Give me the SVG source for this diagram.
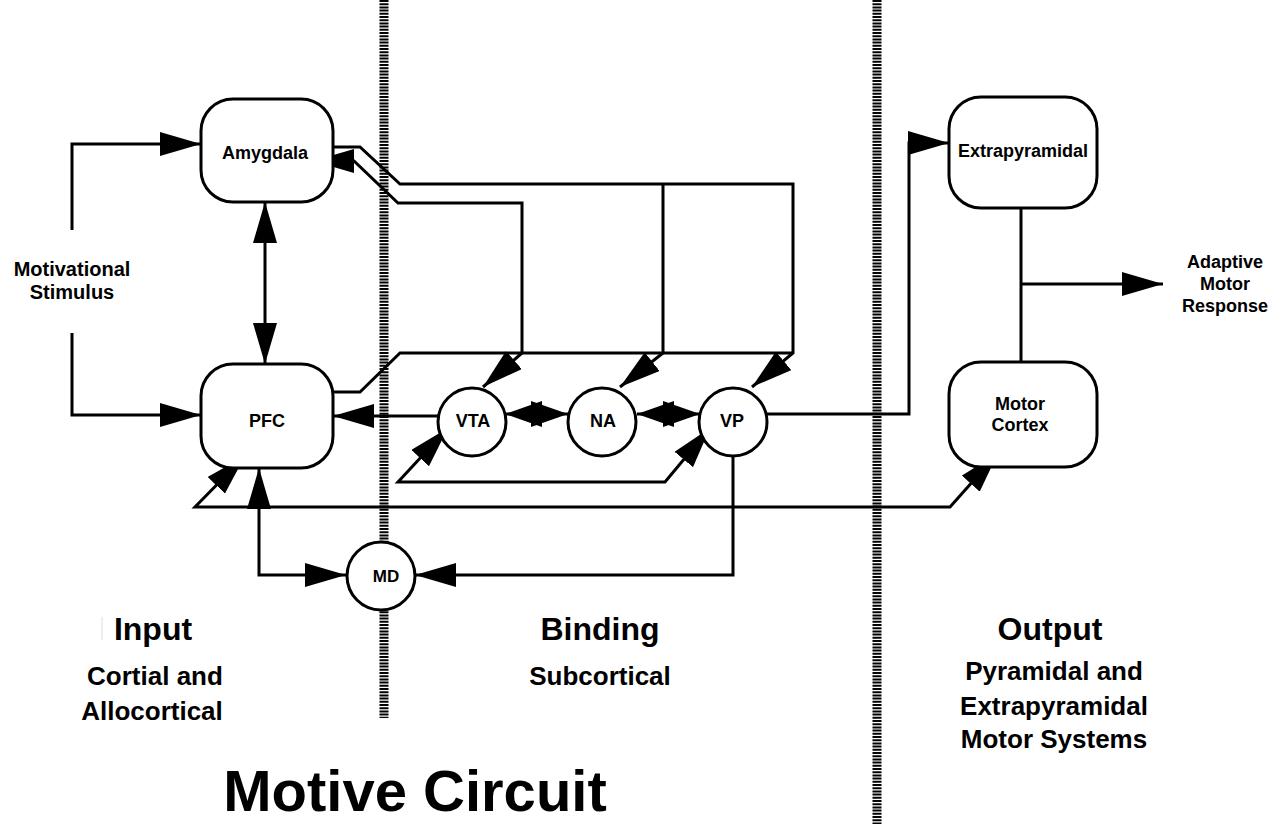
<svg xmlns="http://www.w3.org/2000/svg" width="1278" height="824" viewBox="0 0 1278 824">
<style>
.t{font-family:"Liberation Sans",Arial,Helvetica,sans-serif;font-weight:bold;fill:#000;text-anchor:middle}
.c{fill:none;stroke:#000;stroke-width:3;stroke-linejoin:miter}
.n{fill:#fff;stroke:#000;stroke-width:3}
.d{fill:none;stroke:#000;stroke-width:9;stroke-dasharray:2 1.2}
</style>
<defs>
<marker id="ah" markerUnits="userSpaceOnUse" markerWidth="42" markerHeight="24" refX="41" refY="12" orient="auto-start-reverse" viewBox="0 0 42 24">
<path d="M0,0 L41,12 L0,24 z" fill="#000"/>
</marker>
<marker id="as" markerUnits="userSpaceOnUse" markerWidth="38" markerHeight="26" refX="37" refY="13" orient="auto-start-reverse" viewBox="0 0 38 26">
<path d="M0,0 L37,13 L0,26 z" fill="#000"/>
</marker>
</defs>
<rect width="1278" height="824" fill="#fff"/>

<g id="dividers">
<line class="d" x1="384" y1="0" x2="384" y2="718"/>
<line class="d" x1="877" y1="0" x2="877" y2="824"/>
</g>

<g id="connectors">
<path class="c" d="M72,230 V144 H201" marker-end="url(#ah)"/>
<path class="c" d="M72,333 V415 H201" marker-end="url(#ah)"/>
<path class="c" d="M265,202 V364" marker-start="url(#ah)" marker-end="url(#ah)"/>
<path class="c" d="M333,147 H360 L400,184 H793 V353 L752,387" marker-end="url(#ah)"/>
<path class="c" d="M663,184 V353 L620,387" marker-end="url(#ah)"/>
<path class="c" d="M333,392 H360 L400,353 H793"/>
<path class="c" d="M313,161 H354 L398,203 H522 V353 L483,387" marker-start="url(#ah)" marker-end="url(#ah)"/>
<path class="c" d="M438,416 H333" marker-end="url(#ah)"/>
<path class="c" d="M505,414 H568" marker-start="url(#as)" marker-end="url(#as)"/>
<path class="c" d="M637,414 H700" marker-start="url(#as)" marker-end="url(#as)"/>
<path class="c" d="M448,428 L398,482 H665 L710,428" marker-start="url(#ah)" marker-end="url(#ah)"/>
<path class="c" d="M245,456 L195,507 H950 L998,453" marker-start="url(#ah)" marker-end="url(#ah)"/>
<path class="c" d="M259,468 V575 H346" marker-start="url(#ah)" marker-end="url(#ah)"/>
<path class="c" d="M733,456 V575 H415" marker-end="url(#ah)"/>
<path class="c" d="M767,414 H909 V143 H949" marker-end="url(#ah)"/>
<path class="c" d="M1021,208 V362"/>
<path class="c" d="M1021,284 H1163" marker-end="url(#ah)"/>
</g>

<g id="amygdala">
<rect class="n" x="201" y="99" width="132" height="103" rx="32"/>
<text class="t" x="265" y="159" font-size="18">Amygdala</text>
</g>
<g id="pfc">
<rect class="n" x="201" y="364" width="132" height="104" rx="32"/>
<text class="t" x="267" y="427" font-size="18">PFC</text>
</g>
<g id="vta">
<circle class="n" cx="472" cy="422" r="34"/>
<text class="t" x="473" y="427" font-size="18">VTA</text>
</g>
<g id="na">
<circle class="n" cx="602" cy="422" r="34"/>
<text class="t" x="603" y="427" font-size="18">NA</text>
</g>
<g id="vp">
<circle class="n" cx="733" cy="422" r="34"/>
<text class="t" x="732" y="427" font-size="18">VP</text>
</g>
<g id="md">
<circle class="n" cx="381" cy="576" r="34"/>
<text class="t" x="386" y="582" font-size="17">MD</text>
</g>
<g id="extrapyramidal">
<rect class="n" x="949" y="97" width="148" height="111" rx="32"/>
<text class="t" x="1023" y="157" font-size="18">Extrapyramidal</text>
</g>
<g id="motor-cortex">
<rect class="n" x="949" y="362" width="148" height="105" rx="32"/>
<text class="t" x="1020" y="410" font-size="18">Motor</text>
<text class="t" x="1020" y="431" font-size="18">Cortex</text>
</g>

<g id="labels">
<text class="t" x="72" y="276" font-size="20">Motivational</text>
<text class="t" x="72" y="299" font-size="20">Stimulus</text>
<text class="t" x="1225" y="268" font-size="18">Adaptive</text>
<text class="t" x="1225" y="290" font-size="18">Motor</text>
<text class="t" x="1225" y="312" font-size="18">Response</text>
<line x1="102" y1="617" x2="102" y2="640" stroke="#ddd" stroke-width="1"/>
<text class="t" x="153" y="640" font-size="32">Input</text>
<text class="t" x="155" y="685" font-size="26">Cortial and</text>
<text class="t" x="152" y="720" font-size="26">Allocortical</text>
<text class="t" x="600" y="640" font-size="32">Binding</text>
<text class="t" x="600" y="685" font-size="26">Subcortical</text>
<text class="t" x="1050" y="640" font-size="32">Output</text>
<text class="t" x="1054" y="680" font-size="26">Pyramidal and</text>
<text class="t" x="1054" y="715" font-size="26">Extrapyramidal</text>
<text class="t" x="1054" y="748" font-size="26">Motor Systems</text>
<text class="t" x="415" y="811" font-size="58">Motive Circuit</text>
</g>
</svg>
